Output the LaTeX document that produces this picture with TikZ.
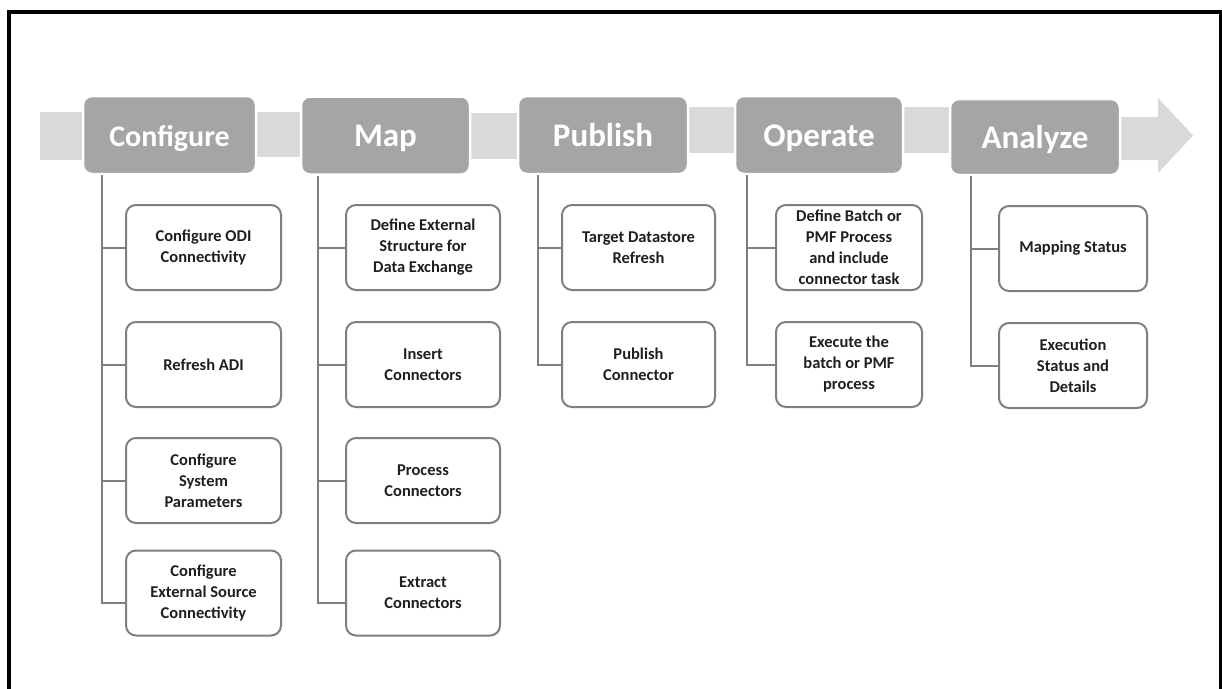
\documentclass[tikz,border=0pt]{standalone}
\usepackage{fontspec}
\setmainfont{Carlito}
\usetikzlibrary{calc}
\definecolor{hdrgray}{HTML}{A5A5A5}
\definecolor{bandgray}{HTML}{D9D9D9}
\definecolor{boxgray}{HTML}{7F7F7F}
\definecolor{txtdark}{HTML}{1F1F1F}
\tikzset{
  hdr/.style={fill=hdrgray, draw=white, line width=2.5pt, rounded corners=9pt, minimum height=78pt,
    text=white, font=\fontsize{33}{38}\selectfont\bfseries, inner sep=0pt,
    text height=25pt, text depth=3pt},
  band/.style={fill=bandgray, draw=none},
  task/.style={draw=boxgray, line width=2pt, fill=white, rounded corners=10pt,
    minimum height=85pt, align=center, text=txtdark, inner sep=0pt,
    font=\fontsize{16.5}{21}\selectfont\bfseries},
  conn/.style={draw=boxgray, line width=2pt},
  frame/.style={draw=black, line width=3.5pt}
}
\begin{document}
\begin{tikzpicture}[x=1pt,y=-1pt]
\useasboundingbox (0,0) rectangle (1222,688);
\fill[white] (0,0) rectangle (1222,688);
\draw[frame] (9,690) -- (9,12) -- (1220.5,12) -- (1220.5,690);
% band segments and arrow
\fill[band] (40,112) rectangle (84,160);
\fill[band] (250,112) rectangle (305,157);
\fill[band] (465,113) rectangle (520,159);
\fill[band] (680,107) rectangle (740,153);
\fill[band] (895,107) rectangle (955,153);
\fill[band] (1110,117) -- (1158,117) -- (1158,98) -- (1193,135.5) -- (1158,173) -- (1158,160) -- (1110,160) -- cycle;
% headers
\node[hdr, minimum width=173pt, font=\fontsize{30}{36}\selectfont\bfseries] (cfg) at (169.5,135) {Configure};
\node[hdr, minimum width=169pt] (map) at (385.5,135.5) {Map};
\node[hdr, minimum width=170pt] (pub) at (603,135) {Publish};
\node[hdr, minimum width=168pt] (ope) at (819,135) {Operate};
\node[hdr, minimum width=170pt, minimum height=76pt] (ana) at (1035,137) {Analyze};
% tasks: Configure
\node[task, minimum width=155pt] (c1) at (203.5,247.5) {Configure ODI\\Connectivity};
\node[task, minimum width=155pt] (c2) at (203.5,364.5) {Refresh ADI};
\node[task, minimum width=155pt] (c3) at (203.5,480.5) {Configure\\System\\Parameters};
\node[task, minimum width=155pt] (c4) at (203.5,593) {Configure\\External Source\\Connectivity};
% Map
\node[task, minimum width=154pt] (m1) at (423,247.5) {Define External\\Structure for\\Data Exchange};
\node[task, minimum width=154pt] (m2) at (423,364.5) {Insert\\Connectors};
\node[task, minimum width=154pt] (m3) at (423,480.5) {Process\\Connectors};
\node[task, minimum width=154pt] (m4) at (423,593) {Extract\\Connectors};
% Publish
\node[task, minimum width=153pt] (p1) at (638.5,247.5) {Target Datastore\\Refresh};
\node[task, minimum width=153pt] (p2) at (638.5,364.5) {Publish\\Connector};
% Operate
\node[task, minimum width=146pt] (o1) at (849,247.5) {Define Batch or\\PMF Process\\and include\\connector task};
\node[task, minimum width=146pt] (o2) at (849,364.5) {Execute the\\batch or PMF\\process};
% Analyze
\node[task, minimum width=148pt] (a1) at (1073,248.5) {Mapping Status};
\node[task, minimum width=148pt] (a2) at (1073,365.5) {Execution\\Status and\\Details};
% connector anchors
\coordinate (cv) at ($(cfg.south west)+(20,0)$);
\coordinate (mv) at ($(map.south west)+(18,0)$);
\coordinate (pv) at ($(pub.south west)+(21,0)$);
\coordinate (ov) at ($(ope.south west)+(13,0)$);
\coordinate (av) at ($(ana.south west)+(22,0)$);
\coordinate (c4b) at ($(c4.west)+(0,10)$);
\coordinate (m4b) at ($(m4.west)+(0,10)$);
\draw[conn] (cv) |- (c4b);
\draw[conn] (cv) |- (c1.west);
\draw[conn] (cv) |- (c2.west);
\draw[conn] (cv) |- (c3.west);
\draw[conn] (mv) |- (m4b);
\draw[conn] (mv) |- (m1.west);
\draw[conn] (mv) |- (m2.west);
\draw[conn] (mv) |- (m3.west);
\draw[conn] (pv) |- (p1.west);
\draw[conn] (pv) |- (p2.west);
\draw[conn] (ov) |- (o1.west);
\draw[conn] (ov) |- (o2.west);
\draw[conn] (av) |- (a1.west);
\draw[conn] (av) |- (a2.west);
\end{tikzpicture}
\end{document}
